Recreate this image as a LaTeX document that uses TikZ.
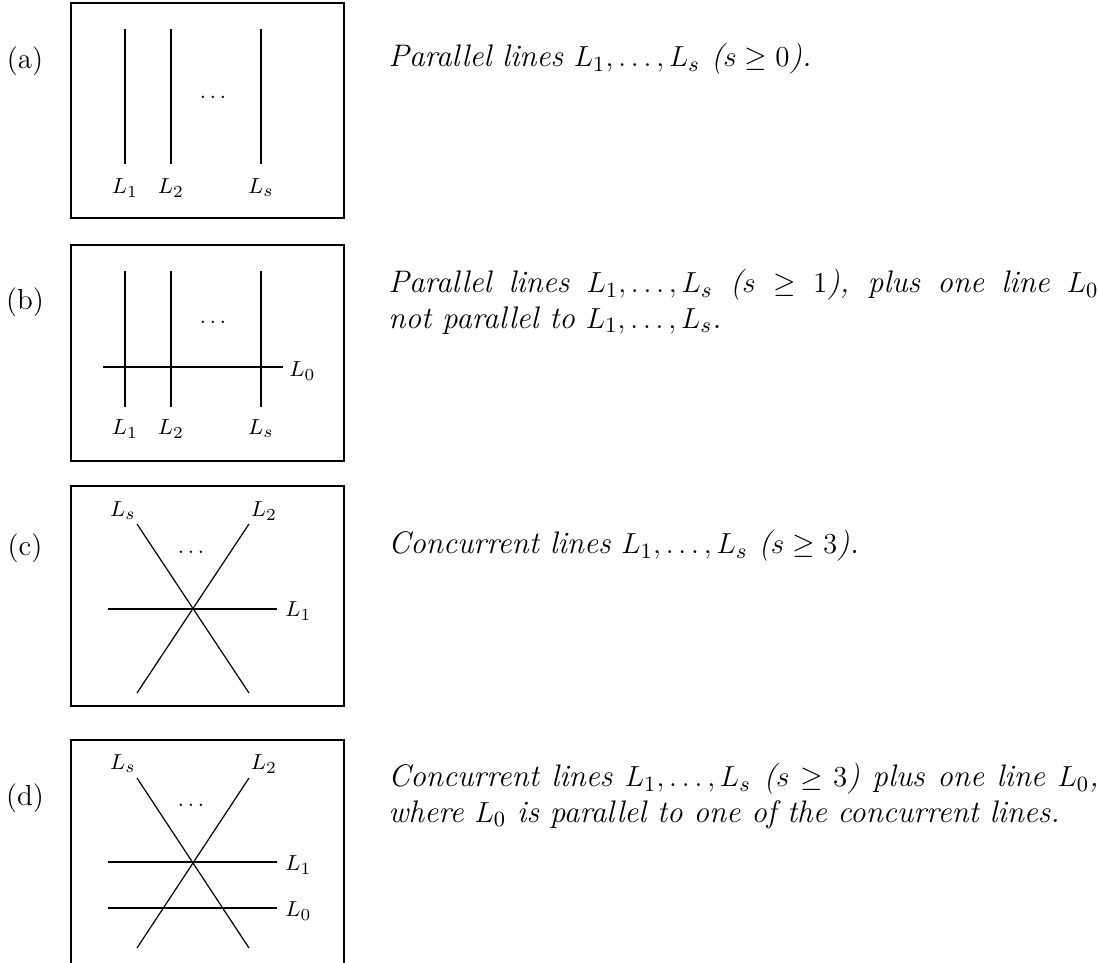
\documentclass[tikz,border=0pt]{standalone}
\usepackage{amsmath,amssymb}
\usetikzlibrary{positioning}
\tikzset{
  frame/.style={draw, line width=0.5pt},
  line/.style={line width=0.5pt},
  lab/.style={font=\fontsize{9.5}{11}\selectfont, inner sep=0pt, anchor=base},
  tag/.style={font=\fontsize{12}{14.5}\selectfont, inner sep=0pt, anchor=base},
  caption/.style={font=\fontsize{12.9}{14.7}\selectfont\itshape, inner sep=0pt,
    anchor=base west, text width=294pt, align=justify}
}
\begin{document}
\begin{tikzpicture}[x=0.414pt, y=-0.414pt]
    \clip (0,0) rectangle (1099,963);
    % ---- (a) parallel lines ----
    \draw[frame] (71,3) rectangle (344,218);
    \node[tag] (tagA) at (25,69) {(a)};
    \foreach \x/\i in {125/1,171/2,261/s} {
      \coordinate (aT\i) at (\x,29);
      \coordinate (aB\i) at (\x,164);
      \draw[line] (aT\i) -- (aB\i);
      \node[lab] (aL\i) at (\x,194) {$L_{\i}$};
    }
    \node[lab] (aDots) at (213,99) {$\ldots$};
    \node[caption] (capA) at (388,67)
      {Parallel lines $L_1,\ldots,L_s$ ($s\geq 0$).};
    % ---- (b) parallel lines plus L0 ----
    \draw[frame] (71,245) rectangle (344,461);
    \node[tag] (tagB) at (25,310) {(b)};
    \foreach \x/\i in {125/1,171/2,261/s} {
      \coordinate (bT\i) at (\x,271);
      \coordinate (bB\i) at (\x,407);
      \draw[line] (bT\i) -- (bB\i);
      \node[lab] (bL\i) at (\x,435) {$L_{\i}$};
    }
    \node[lab] (bDots) at (213,324) {$\ldots$};
    \coordinate (bW0) at (103,367);
    \coordinate (bE0) at (283,367);
    \draw[line] (bW0) -- (bE0);
    \node[lab, anchor=base west] (bL0) at (289,377) {$L_0$};
    \node[caption] (capB) at (388,293)
      {Parallel lines $L_1,\ldots,L_s$ ($s\geq 1$), plus one line $L_0$\linebreak
       not parallel to $L_1,\ldots,L_s$.};
    % ---- (c) concurrent lines ----
    \draw[frame] (71,486) rectangle (344,706);
    \node[tag] (tagC) at (25,556) {(c)};
    \coordinate (cO) at (192,609);
    \coordinate (cW1) at (108,609);
    \coordinate (cE1) at (277,609);
    \coordinate (cT2) at (249,524);
    \coordinate (cB2) at (137,693);
    \coordinate (cTs) at (137,524);
    \coordinate (cBs) at (249,693);
    \draw[line] (cW1) -- (cE1);
    \draw[line] (cB2) -- (cT2);
    \draw[line] (cBs) -- (cTs);
    \node[lab, anchor=base west] (cL1) at (285,617) {$L_1$};
    \node[lab] (cL2) at (264,517) {$L_2$};
    \node[lab] (cLs) at (123,517) {$L_s$};
    \node[lab] (cDots) at (191,554) {$\ldots$};
    \node[caption] (capC) at (388,554)
      {Concurrent lines $L_1,\ldots,L_s$ ($s\geq 3$).};
    % ---- (d) concurrent lines plus L0 ----
    \draw[frame] (71,740) rectangle (344,1000);
    \node[tag] (tagD) at (25,806) {(d)};
    \coordinate (dO) at (192,862);
    \coordinate (dW1) at (108,862);
    \coordinate (dE1) at (277,862);
    \coordinate (dW0) at (108,908);
    \coordinate (dE0) at (277,908);
    \coordinate (dT2) at (249,778);
    \coordinate (dB2) at (137,948);
    \coordinate (dTs) at (137,778);
    \coordinate (dBs) at (249,948);
    \draw[line] (dW1) -- (dE1);
    \draw[line] (dW0) -- (dE0);
    \draw[line] (dB2) -- (dT2);
    \draw[line] (dBs) -- (dTs);
    \node[lab, anchor=base west] (dL1) at (285,871) {$L_1$};
    \node[lab, anchor=base west] (dL0) at (285,917) {$L_0$};
    \node[lab] (dL2) at (264,770) {$L_2$};
    \node[lab] (dLs) at (123,770) {$L_s$};
    \node[lab] (dDots) at (191,807) {$\ldots$};
    \node[caption] (capD) at (388,787)
      {Concurrent lines $L_1,\ldots,L_s$ ($s\geq 3$) plus one line $L_0$,\linebreak
       where $L_0$ is parallel to one of the concurrent lines.};
\end{tikzpicture}
\end{document}
